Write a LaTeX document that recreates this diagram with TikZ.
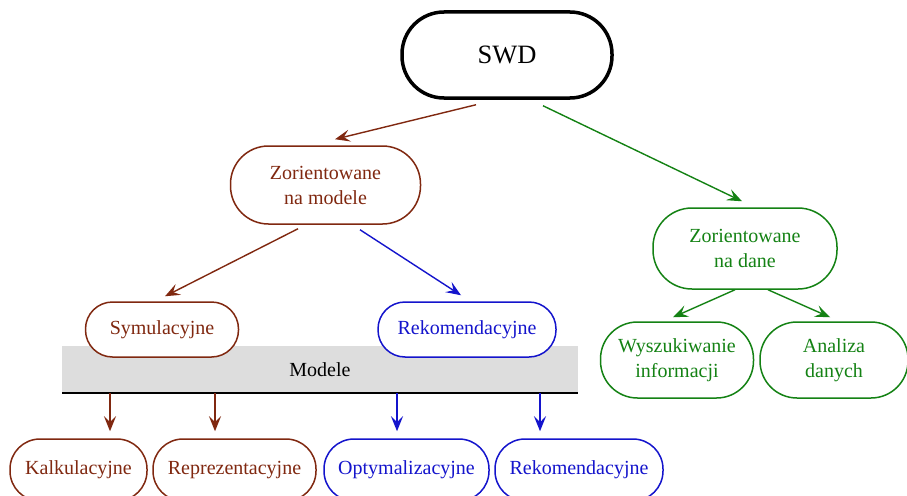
\documentclass[tikz,border=0pt]{standalone}
\usepackage{fontspec}
\setmainfont{Liberation Serif}
\usetikzlibrary{arrows.meta,calc}
\definecolor{cbrown}{RGB}{128,40,16}
\definecolor{cblue}{RGB}{20,20,204}
\definecolor{cgreen}{RGB}{20,130,20}
\definecolor{barfill}{RGB}{221,221,221}
\tikzset{
  pill/.style={draw, fill=white, line width=1.5pt, align=center, inner sep=0pt,
    font=\fontsize{20}{25}\selectfont},
  arr/.style={-{Stealth[length=15pt,width=12pt,inset=6pt]}, line width=1.4pt},
}
\begin{document}
\begin{tikzpicture}[x=1pt,y=-1pt]
\useasboundingbox (0,0) rectangle (907,495);
\fill[white] (0,0) rectangle (907,495);

% top node
\node[pill, draw=black, line width=3.5pt, minimum width=210pt, minimum height=86pt,
  rounded corners=42pt, font=\fontsize{26.5}{30}\selectfont] (swd) at (507,55) {SWD};

% second level
\node[pill, draw=cbrown, text=cbrown, minimum width=190pt, minimum height=78pt,
  rounded corners=38pt] (zm) at (325.5,185) {Zorientowane\\na modele};
\node[pill, draw=cgreen, text=cgreen, minimum width=184pt, minimum height=81pt,
  rounded corners=39pt] (zd) at (745,248.5) {Zorientowane\\na dane};

% models bar
\node[fill=barfill, minimum width=516pt, minimum height=47pt, inner sep=0pt,
  anchor=south west] (bar) at (62,393) {};
\node[font=\fontsize{20}{25}\selectfont] (modele) at (320,370) {Modele};
\draw[line width=2pt] (bar.south west) -- (bar.south east);

% third level
\node[pill, draw=cbrown, text=cbrown, minimum width=153pt, minimum height=55pt,
  rounded corners=27pt] (sym) at (162,329.5) {Symulacyjne};
\node[pill, draw=cblue, text=cblue, minimum width=178pt, minimum height=55pt,
  rounded corners=27pt] (rek1) at (467,329.5) {Rekomendacyjne};
\node[pill, draw=cgreen, text=cgreen, minimum width=153pt, minimum height=76pt,
  rounded corners=37pt] (wys) at (677,360) {Wyszukiwanie\\informacji};
\node[pill, draw=cgreen, text=cgreen, minimum width=148pt, minimum height=76pt,
  rounded corners=37pt] (ana) at (834,360) {Analiza\\danych};

% bottom level
\node[pill, draw=cbrown, text=cbrown, minimum width=137pt, minimum height=62pt,
  rounded corners=30pt] (kal) at (78.5,470) {Kalkulacyjne};
\node[pill, draw=cbrown, text=cbrown, minimum width=163pt, minimum height=62pt,
  rounded corners=30pt] (rep) at (234.5,470) {Reprezentacyjne};
\node[pill, draw=cblue, text=cblue, minimum width=165pt, minimum height=62pt,
  rounded corners=30pt] (opt) at (406.5,470) {Optymalizacyjne};
\node[pill, draw=cblue, text=cblue, minimum width=168pt, minimum height=62pt,
  rounded corners=30pt] (rek2) at (579,470) {Rekomendacyjne};

% connectors
\draw[arr, cbrown] ($(swd.south)+(-31,5)$) -- ($(zm.north)+(9.5,-6)$);
\draw[arr, cgreen] ($(swd.south)+(36,6)$) -- ($(zd.north)+(-3,-6)$);
\draw[arr, cbrown] ($(zm.south)+(-27.5,4)$) -- ($(sym.north)+(3,-5)$);
\draw[arr, cblue] ($(zm.south)+(34.5,5)$) -- ($(rek1.north)+(-6,-6)$);
\draw[arr, cgreen] ($(zd.south)+(-10,0)$) -- ($(wys.north)+(-4,-4)$);
\draw[arr, cgreen] ($(zd.south)+(23,0)$) -- ($(ana.north)+(-4,-4)$);

\coordinate (b1) at (110,393);
\coordinate (b2) at (215,393);
\coordinate (b3) at (397,393);
\coordinate (b4) at (540,393);
\draw[arr, cbrown, shorten >=7pt] (b1) -- (b1 |- kal.north);
\draw[arr, cbrown, shorten >=7pt] (b2) -- (b2 |- rep.north);
\draw[arr, cblue, shorten >=7pt] (b3) -- (b3 |- opt.north);
\draw[arr, cblue, shorten >=7pt] (b4) -- (b4 |- rek2.north);
\end{tikzpicture}
\end{document}
